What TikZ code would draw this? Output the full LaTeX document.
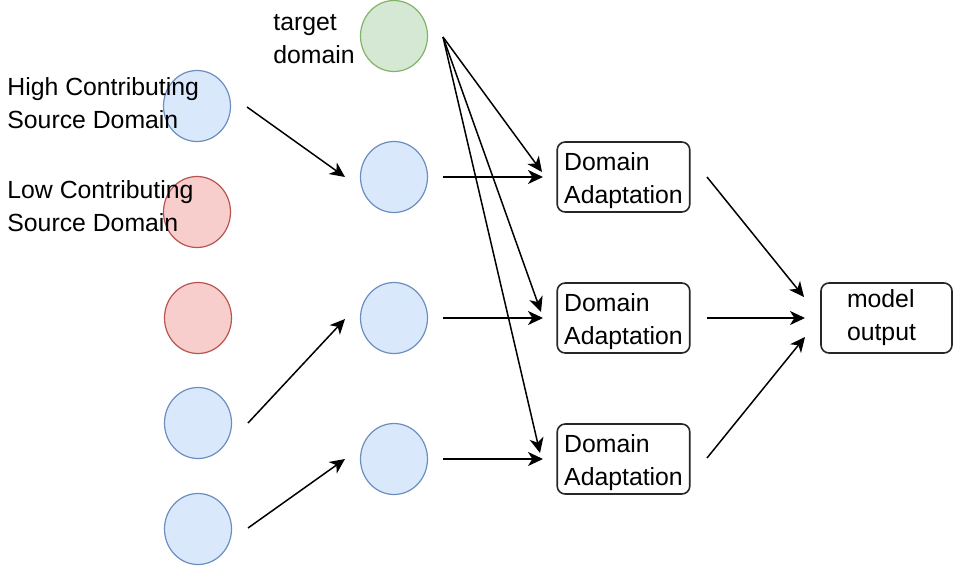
\documentclass[tikz,border=0pt]{standalone}
\usepackage{fontspec}
\setmainfont{Liberation Sans}
\usetikzlibrary{shapes.geometric,arrows.meta}
\definecolor{bluefill}{HTML}{DAE8FC}
\definecolor{bluedraw}{HTML}{6C8EBF}
\definecolor{redfill}{HTML}{F8CECC}
\definecolor{reddraw}{HTML}{B85450}
\definecolor{greenfill}{HTML}{D5E8D4}
\definecolor{greendraw}{HTML}{82B366}
\tikzset{
  dot/.style={ellipse, minimum width=33.5pt, minimum height=35.5pt, inner sep=0pt, line width=0.6pt},
  bdot/.style={dot, draw=bluedraw, fill=bluefill},
  rdot/.style={dot, draw=reddraw, fill=redfill},
  gdot/.style={dot, draw=greendraw, fill=greenfill},
  lbl/.style={inner sep=0pt, align=left, font=\fontsize{12.4}{16.5}\selectfont},
  dabox/.style={draw=black!85, line width=0.8pt, rounded corners=4pt, minimum width=65.5pt, minimum height=35pt,
    inner xsep=3.5pt, inner ysep=0pt, align=left, font=\fontsize{12.4}{16.5}\selectfont},
  arr/.style={line width=0.75pt, -{Stealth[length=7.5pt, width=7pt, inset=2.2pt]}},
}
\begin{document}
\begin{tikzpicture}[x=0.5pt, y=-0.5pt]
\useasboundingbox (0,0) rectangle (966,580);
% left column
\node[bdot] (c1) at (197,106) {};
\node[rdot] (c2) at (197,212) {};
\node[rdot] (c3) at (198,318) {};
\node[bdot] (c4) at (198,423) {};
\node[bdot] (c5) at (198,529) {};
% middle column
\node[gdot] (g) at (394,36) {};
\node[bdot] (m1) at (394,177) {};
\node[bdot] (m2) at (394,318) {};
\node[bdot] (m3) at (394,459) {};
% labels
\node[lbl, anchor=north west] (hi) at (7,77) {High Contributing\\Source Domain};
\node[lbl, anchor=north west] (lo) at (7,180) {Low Contributing\\Source Domain};
\node[lbl, anchor=north west] (tg) at (273,14) {target\\domain};
% boxes
\node[dabox] (d1) at (623.5,177) {\rule{0pt}{13pt}Domain\\Adaptation};
\node[dabox] (d2) at (623.5,318) {\rule{0pt}{13pt}Domain\\Adaptation};
\node[dabox] (d3) at (623.5,459) {\rule{0pt}{13pt}Domain\\Adaptation};
\node[dabox, text width=39.5pt, inner xsep=13pt] (out) at (886.5,318) {model\\output};
% connector ends
\coordinate (a1s) at (247,107); \coordinate (a1e) at (345,177);
\coordinate (a2s) at (248,423); \coordinate (a2e) at (345,319);
\coordinate (a3s) at (248,528); \coordinate (a3e) at (345,459);
\coordinate (b1s) at (443,177); \coordinate (b1e) at (543,177);
\coordinate (b2s) at (443,318); \coordinate (b2e) at (543,318);
\coordinate (b3s) at (443,459); \coordinate (b3e) at (543,459);
\coordinate (gs) at (443,37);
\coordinate (g1e) at (542,172); \coordinate (g2e) at (541,312); \coordinate (g3e) at (540,453);
\coordinate (o1s) at (707,177); \coordinate (o1e) at (804,297);
\coordinate (o2s) at (707,318); \coordinate (o2e) at (805,318);
\coordinate (o3s) at (707,458); \coordinate (o3e) at (805,337);
% connectors
\draw[arr] (a1s) -- (a1e);
\draw[arr] (a2s) -- (a2e);
\draw[arr] (a3s) -- (a3e);
\draw[arr, line width=1pt] (b1s) -- (b1e);
\draw[arr, line width=1pt] (b2s) -- (b2e);
\draw[arr, line width=1pt] (b3s) -- (b3e);
\draw[arr] (gs) -- (g1e);
\draw[arr] (gs) -- (g2e);
\draw[arr] (gs) -- (g3e);
\draw[arr] (o1s) -- (o1e);
\draw[arr, line width=1pt] (o2s) -- (o2e);
\draw[arr] (o3s) -- (o3e);
\end{tikzpicture}
\end{document}
